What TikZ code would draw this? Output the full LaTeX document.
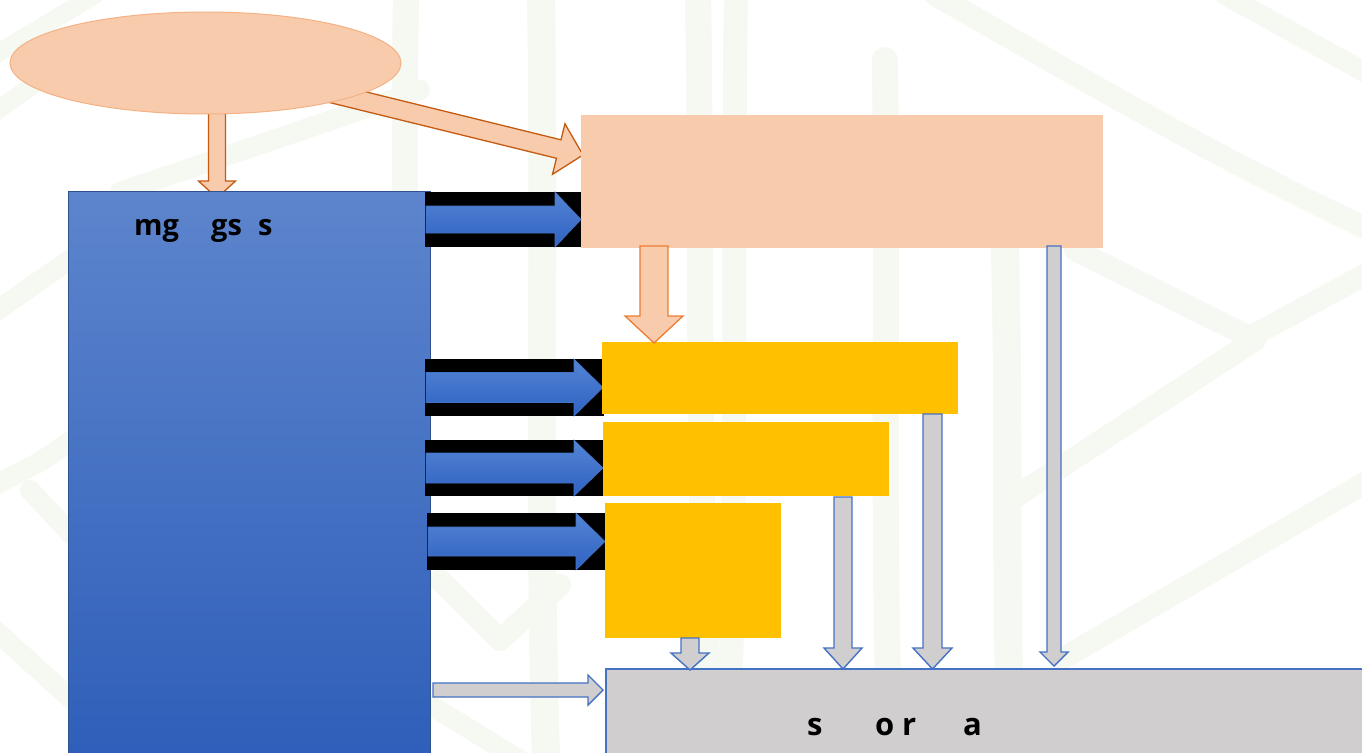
\documentclass[tikz,border=0pt]{standalone}
\usepackage{fontspec}
\setmainfont{Open Sans}
\usetikzlibrary{shapes.geometric}
\definecolor{peach}{HTML}{F8CBAD}
\definecolor{ellline}{HTML}{F4B183}
\definecolor{darkorange}{HTML}{C55A11}
\definecolor{midorange}{HTML}{ED7D31}
\definecolor{gold}{HTML}{FFC000}
\definecolor{lgray}{HTML}{D0CECE}
\definecolor{accblue}{HTML}{4472C4}
\definecolor{boxtop}{HTML}{5D85CD}
\definecolor{boxbot}{HTML}{2E5EB9}
\definecolor{boxline}{HTML}{2F528F}
\definecolor{arrtop}{HTML}{5384D4}
\definecolor{arrbot}{HTML}{2F62C2}
\definecolor{bggreen}{HTML}{F5F9F1}
\newcommand\blkdown[7]{% style, cx, shaft half, head half, top, headstart, tip
  \draw[#1] ({#2-#3},#5) -- ({#2+#3},#5) -- ({#2+#3},#6) -- ({#2+#4},#6) -- (#2,#7) -- ({#2-#4},#6) -- ({#2-#3},#6) -- cycle;}
\newcommand\blkright[7]{% style, cy, shaft half, head half, left, headstart, tip
  \draw[#1] (#5,{#2-#3}) -- (#6,{#2-#3}) -- (#6,{#2-#4}) -- (#7,#2) -- (#6,{#2+#4}) -- (#6,{#2+#3}) -- (#5,{#2+#3}) -- cycle;}
\begin{document}
\begin{tikzpicture}[x=1pt,y=-1pt,
  bgstroke/.style={line width=#1, draw=bggreen, line cap=round, line join=round},
  bgstroke/.default=24,
  box/.style={anchor=north west, inner sep=0pt, outer sep=0pt},
  peacharrow/.style={fill=peach, draw=darkorange, line width=1.3pt, line join=miter},
  peacharrowb/.style={fill=peach, draw=midorange, line width=1.3pt, line join=miter},
  grayarrow/.style={fill=lgray, draw=accblue, line width=1.4pt, line join=miter},
  bluearrow/.style={top color=arrtop, bottom color=arrbot, draw=accblue, line width=0.6pt},
  label/.style={anchor=base west, inner sep=0pt, font=\bfseries}
]
\useasboundingbox (0,0) rectangle (1362,752);
\fill[white] (0,0) rectangle (1362,752);

% faint background brush strokes
\draw[bgstroke=26] (406,-10) .. controls (402,250) and (410,500) .. (412,760);
\draw[bgstroke=28] (541,-10) .. controls (545,250) and (538,500) .. (546,760);
\draw[bgstroke=26] (698,-10) .. controls (702,250) and (696,500) .. (712,760);
\draw[bgstroke=24] (736,-10) .. controls (732,250) and (738,500) .. (728,760);
\draw[bgstroke=26] (885,60) .. controls (888,300) and (882,500) .. (890,760);
\draw[bgstroke=28] (1005,250) .. controls (1010,450) and (1004,600) .. (1012,760);
\draw[bgstroke=22] (935,-5) .. controls (1050,60) and (1200,150) .. (1370,230);
\draw[bgstroke=20] (1225,-5) -- (1370,75);
\draw[bgstroke=22] (1075,250) -- (1250,337) -- (1370,272);
\draw[bgstroke=22] (1015,497) -- (1255,340);
\draw[bgstroke=22] (1060,660) -- (1370,480);
\draw[bgstroke=18] (-5,55) -- (95,-5);
\draw[bgstroke=18] (-5,112) -- (90,45);
\draw[bgstroke=20] (120,192) -- (420,90);
\draw[bgstroke=20] (-5,312) -- (72,258);
\draw[bgstroke=20] (-5,485) -- (40,462) -- (72,440);
\draw[bgstroke=20] (30,490) -- (72,535);
\draw[bgstroke=20] (-5,630) -- (72,700);
\draw[bgstroke=22] (440,580) -- (500,640) -- (560,585);
\draw[bgstroke=20] (430,705) -- (520,760);

% arrows leaving the ellipse (drawn below it)
\draw[peacharrow] (313.37,78.97) -- (560.99,139.81) -- (564.92,123.79) -- (583,155) -- (552.52,174.29) -- (556.45,158.27) -- (308.83,97.43) -- cycle;
\blkdown{peacharrow}{217}{8.5}{18.5}{90}{181}{198}

% ellipse
\node[ellipse, draw=ellline, line width=1pt, fill=peach, minimum width=391pt, minimum height=102pt, inner sep=0pt] (E) at (205.5,63) {};

% peach box
\node[box, fill=peach, minimum width=522pt, minimum height=133pt] (P) at (581,115) {};

% blue box
\node[box, top color=boxtop, bottom color=boxbot, draw=boxline, line width=0.8pt, minimum width=362pt, minimum height=575pt] (B) at (68,191) {};
\node[label, font=\bfseries\fontsize{29}{29}\selectfont] (T1) at (134,235) {\makebox[0pt][l]{mg}\hspace{77pt}\makebox[0pt][l]{gs}\hspace{47pt}s};

% blue arrows on black bands
\fill[black] (425,192) rectangle (581,247);
\blkright{bluearrow}{219.5}{13.5}{27.5}{426}{555}{581}
\fill[black] (425,359) rectangle (604,416);
\blkright{bluearrow}{387.5}{15}{28.5}{426}{574}{603}
\fill[black] (425,440) rectangle (603,496);
\blkright{bluearrow}{468}{15}{28}{426}{574}{603}
\fill[black] (427,513) rectangle (605,570);
\blkright{bluearrow}{541.5}{14.5}{28.5}{428}{576}{605}

% yellow boxes
\node[box, fill=gold, minimum width=356pt, minimum height=72pt] (Y1) at (602,342) {};
\node[box, fill=gold, minimum width=286pt, minimum height=74pt] (Y2) at (603,422) {};
\node[box, fill=gold, minimum width=176pt, minimum height=135pt] (Y3) at (605,503) {};

% peach -> Y1
\blkdown{peacharrowb}{654}{14}{29}{246}{316}{343}

% gray box
\node[box, fill=lgray, draw=accblue, line width=1.3pt, minimum width=800pt, minimum height=120pt] (G) at (606,669) {};
\node[label, font=\bfseries\fontsize{31}{31}\selectfont] (T2) at (807,735) {\makebox[0pt][l]{s}\hspace{68pt}\makebox[0pt][l]{o}\hspace{27pt}\makebox[0pt][l]{r}\hspace{61pt}a};

% gray arrows into gray box
\blkdown{grayarrow}{690}{9}{19}{638}{653}{670}
\blkdown{grayarrow}{843}{9}{19}{497}{648}{669}
\blkdown{grayarrow}{932.5}{9.5}{19.5}{414}{648}{669}
\blkdown{grayarrow}{1054}{7}{14}{246}{652}{666}
\blkright{grayarrow}{690}{7}{15}{433}{588}{603}
\end{tikzpicture}
\end{document}
